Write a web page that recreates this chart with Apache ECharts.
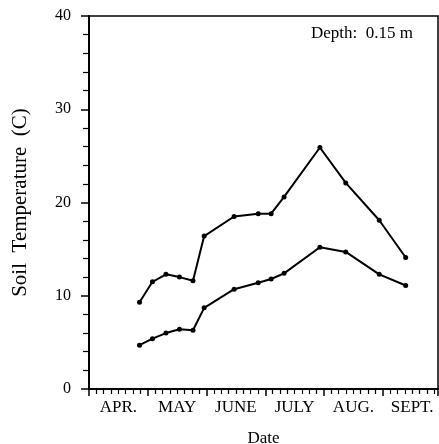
<!DOCTYPE html>
<html>
<head>
<meta charset="utf-8">
<script src="https://cdn.jsdelivr.net/npm/echarts@6/dist/echarts.min.js"></script>
<style>html,body{margin:0;padding:0;background:#fff}#c{width:439px;height:444px}</style>
</head>
<body>
<div id="c"></div>
<script>
// x in months since April 1
var dates = [0.86, 1.08, 1.31, 1.54, 1.77, 1.96, 2.47, 2.88, 3.10, 3.32, 3.93, 4.37, 4.94, 5.39];
var upperTemp = [9.3, 11.5, 12.3, 12.0, 11.6, 16.4, 18.5, 18.8, 18.8, 20.6, 25.9, 22.1, 18.1, 14.1];
var lowerTemp = [4.7, 5.4, 6.0, 6.4, 6.3, 8.7, 10.7, 11.4, 11.8, 12.4, 15.2, 14.7, 12.3, 11.1];
var monthLabels = ['APR.', 'MAY', 'JUNE', 'JULY', 'AUG.', 'SEPT.'];
var yTicks = [0, 10, 20, 30, 40];
var depthLabel = 'Depth:  0.15 m';

var xMax = 5.94;
function pairs(xs, ys) { return xs.map(function (x, i) { return [x, ys[i]]; }); }
var font = 'Liberation Serif';
var chart = echarts.init(document.getElementById('c'));
chart.setOption({
  animation: false,
  backgroundColor: '#fff',
  grid: { left: 89, top: 16, right: 1, bottom: 55, containLabel: false, outerBoundsMode: 'none',
    show: true, borderColor: '#000', borderWidth: 1.5, backgroundColor: 'transparent' },
  xAxis: [{
    type: 'value', min: 0, max: xMax, interval: 1,
    axisLine: { show: true, onZero: false, lineStyle: { color: '#000', width: 2 } },
    axisTick: { show: true, inside: false, length: 7, lineStyle: { color: '#000', width: 1.5 } },
    minorTick: { show: true, splitNumber: 8, length: 5, lineStyle: { color: '#000', width: 1.2 } },
    axisLabel: { show: false },
    splitLine: { show: false }
  }, {
    // half-month units: odd values fall at month centres
    type: 'value', min: 0, max: xMax * 2, interval: 1, position: 'bottom',
    axisLine: { show: false }, axisTick: { show: false }, splitLine: { show: false },
    axisLabel: { show: true, margin: 10, color: '#000', fontFamily: font, fontSize: 17,
      formatter: function (v) {
        var r = Math.round(v);
        if (Math.abs(v - r) > 1e-6 || r % 2 === 0) return '';
        return monthLabels[(r - 1) / 2] || '';
      } },
    name: 'Date', nameLocation: 'middle', nameGap: 41,
    nameTextStyle: { color: '#000', fontFamily: font, fontSize: 17 }
  }],
  yAxis: {
    type: 'value', min: 0, max: 40, interval: 10,
    axisLine: { show: true, lineStyle: { color: '#000', width: 2 } },
    axisTick: { show: true, length: 8, lineStyle: { color: '#000', width: 1.5 } },
    minorTick: { show: true, splitNumber: 5, length: 6, lineStyle: { color: '#000', width: 1.2 } },
    splitLine: { show: false },
    axisLabel: { color: '#000', fontFamily: font, fontSize: 16, margin: 18,
      formatter: function (v) { return yTicks.indexOf(v) >= 0 ? String(v) : ''; } },
    name: 'Soil  Temperature  (C)', nameLocation: 'middle', nameGap: 58,
    nameTextStyle: { color: '#000', fontFamily: font, fontSize: 21 }
  },
  graphic: [{
    type: 'text', right: 26, top: 25,
    style: { text: depthLabel, fill: '#000', font: '17px "Liberation Serif"' }
  }],
  series: [{
    type: 'line', data: pairs(dates, upperTemp), symbol: 'circle', symbolSize: 5,
    lineStyle: { color: '#000', width: 2 }, itemStyle: { color: '#000' }
  }, {
    type: 'line', data: pairs(dates, lowerTemp), symbol: 'circle', symbolSize: 5,
    lineStyle: { color: '#000', width: 2 }, itemStyle: { color: '#000' }
  }]
});
</script>
</body>
</html>
